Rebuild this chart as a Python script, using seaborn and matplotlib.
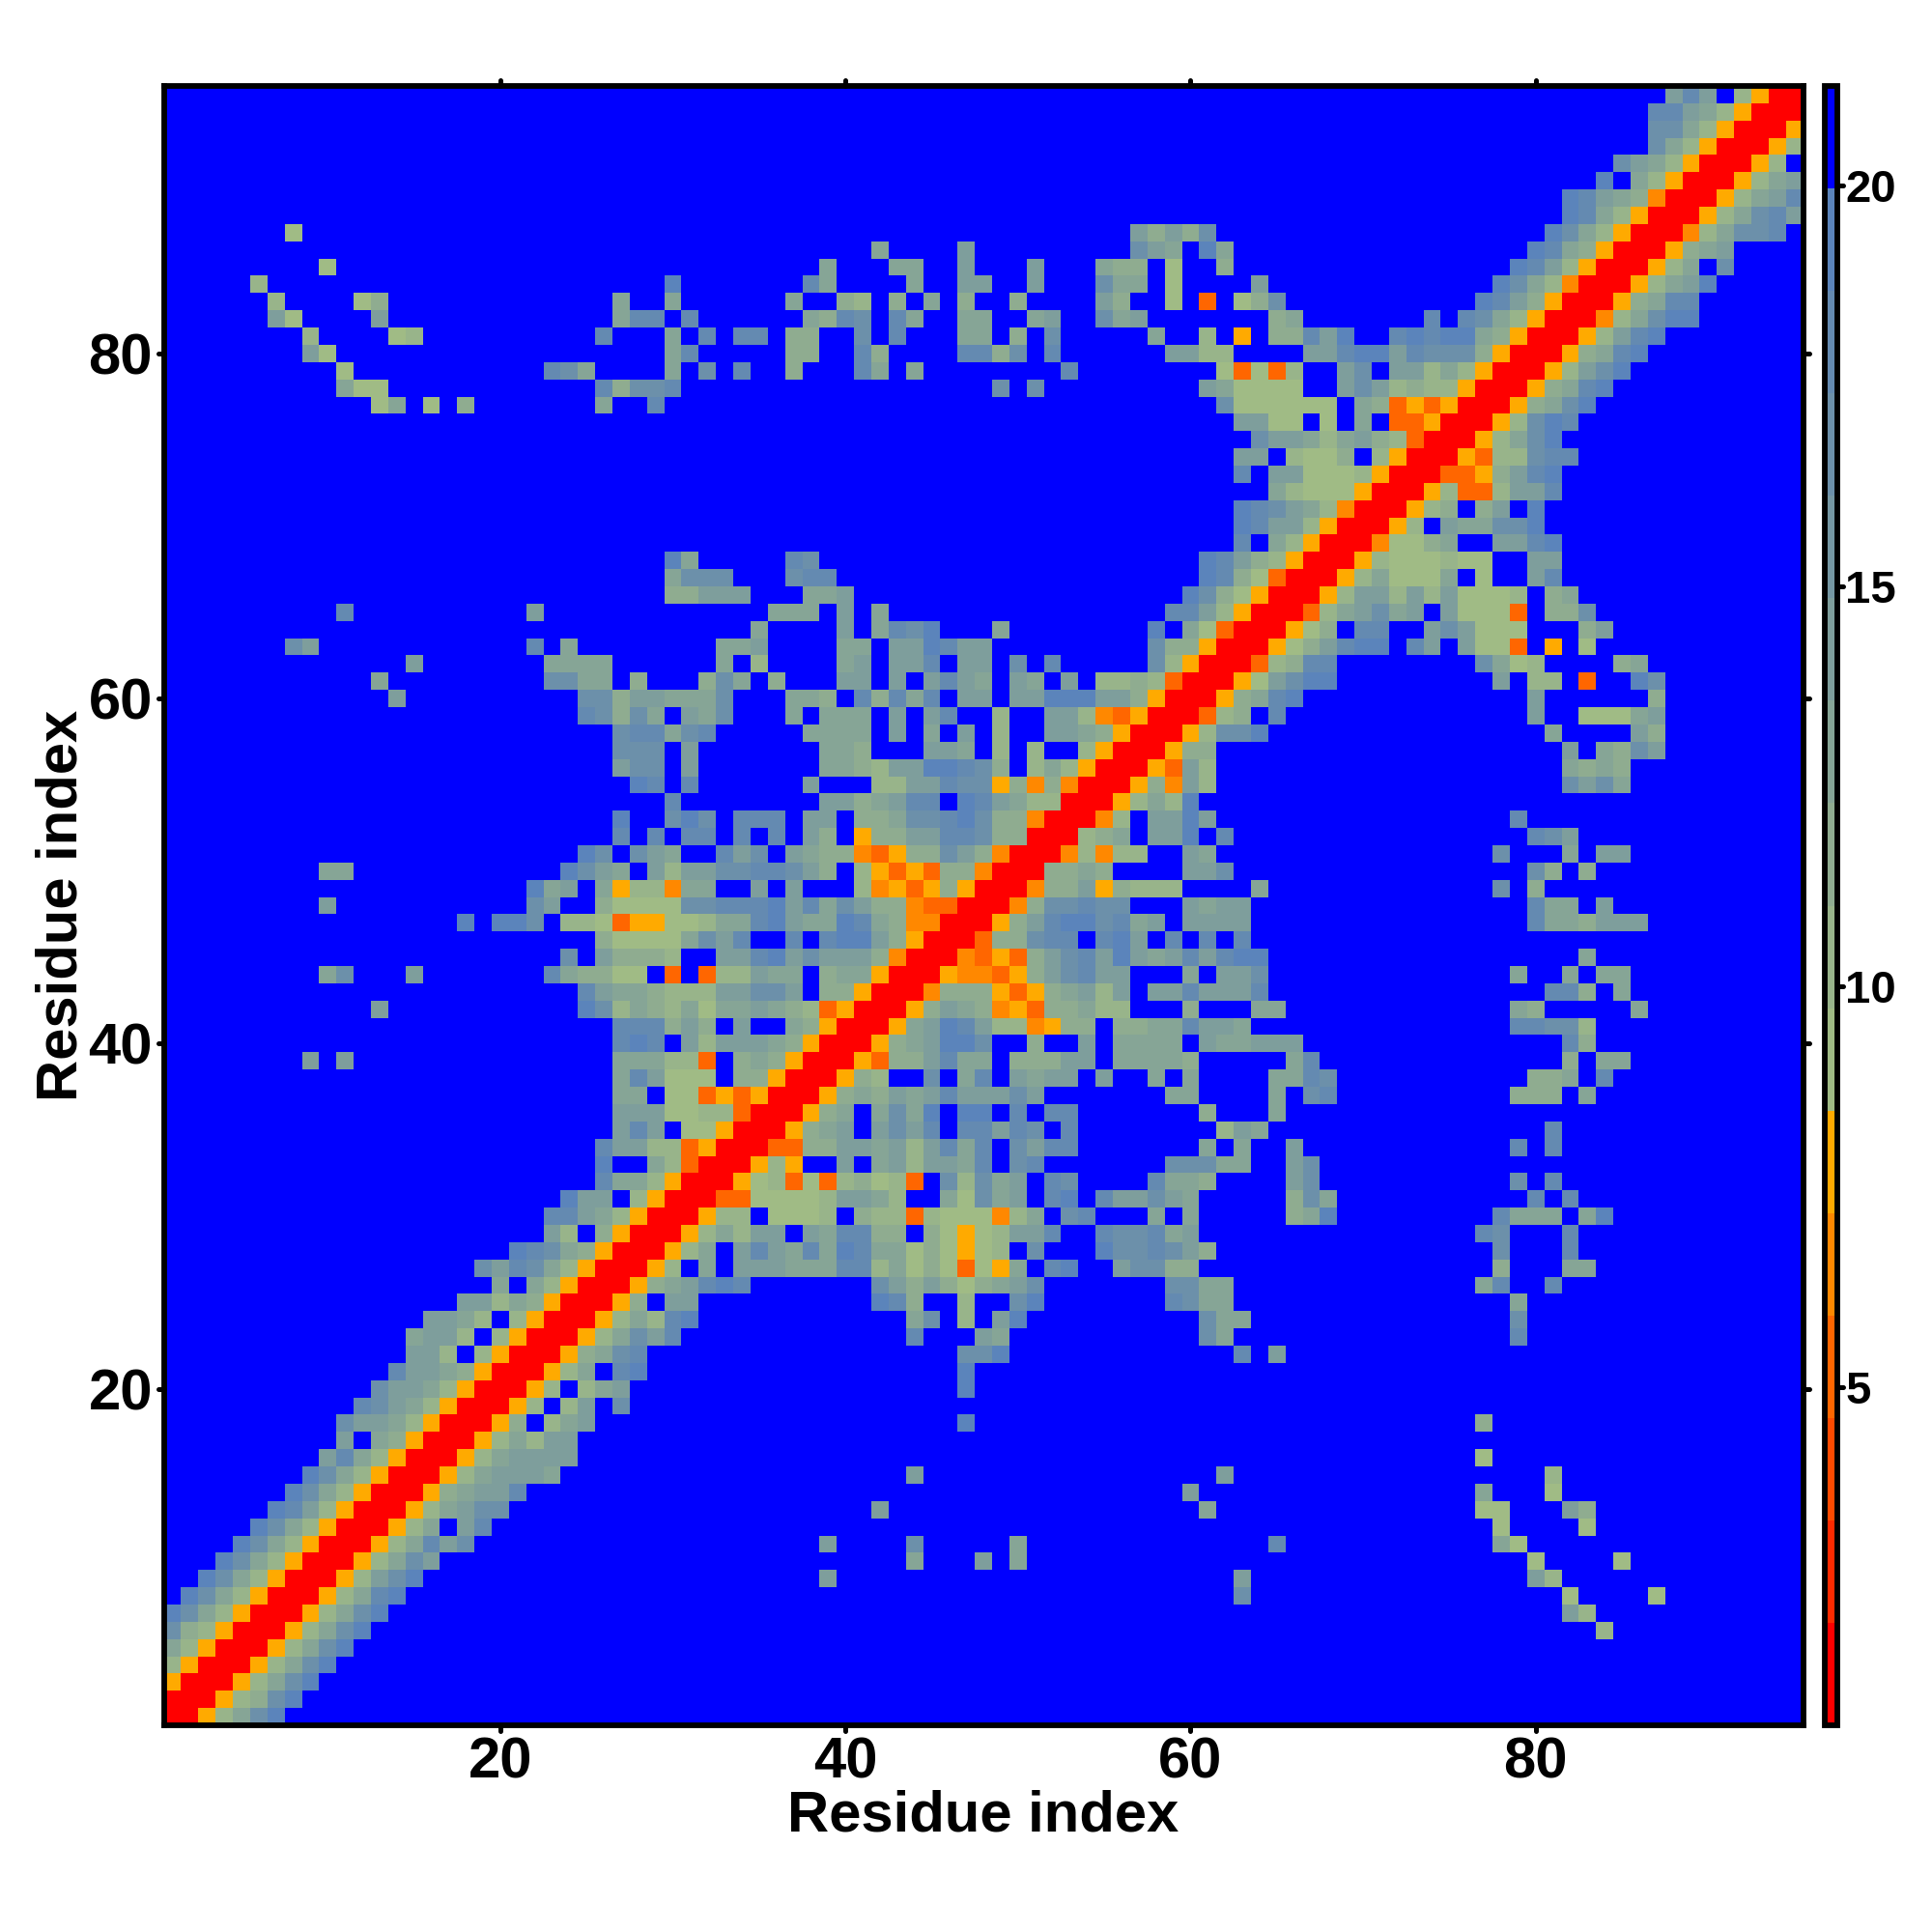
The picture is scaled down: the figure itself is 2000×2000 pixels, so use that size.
import numpy as np
import pandas as pd
import seaborn as sns
import matplotlib.pyplot as plt
from matplotlib.colors import ListedColormap
from matplotlib.markers import MarkerStyle

# distance (in Angstrom) for each letter in the map
codes = ['R', 'q', 'p', 'o', 'a', 'b', 'c', 'd', 'e', 'f', 'g', 'h', '.']
code_values = [1.4, 5.3, 6.5, 7.8, 9.0, 10.3, 11.6, 12.9, 14.1, 16.7, 18.0, 19.2, 20.6]

# upper triangle of the contact map, residue 95 down to residue 1: "first_x:letters"
rows = [
    "88:ege.boRR",
    "87:ggedboRR",
    "87:ffdboRR",
    "87:fdboRR",
    "85:fedboRR",
    "84:h.dboRR",
    "82:hgedcpRR",
    "82:hgdboRR",
    "8:a 57:ececf 81:hfdboRR",
    "42:d 47:e 57:fed 61:hd 80:hgdcoRR",
    "10:a 39:d 43:dd 47:e 51:e 55:dcc 59:a 62:c 79:hgeboRR",
    "6:b 30:h 38:gd 44:d 47:ee 51:e 55:fdd 59:a 64:e 78:hfdbpRR",
    "7:b 12:ac 27:d 30:d 37:d 40:cb 43:c 45:d 47:c 50:c 55:ec 59:a 61:q 63:acf 77:hgecoRR",
    "7:ea 13:e 27:dgg 31:g 38:dcgf 43:gd 47:dd 51:de 55:fde 65:cd 74:g 76:gfdboRR",
    "9:b 14:ab 26:g 30:d 32:g 34:gg 37:cc 41:f 43:g 47:dd 50:c 52:f 58:d 61:b 63:o 65:ccgeh 72:ghghhdcoRR",
    "9:ea 30:dg 37:cc 41:gc 47:ggcf 52:g 59:eebb 67:eeghhegfffcoRR",
    "11:a 23:gfd 30:d 32:f 34:g 37:c 41:gd 44:d 53:g 62:aqaqb 69:ef.eebdboRR",
    "11:daa 26:gcffg 49:f 51:f 61:edaaaa 69:efebcbboRR",
    "13:ad 16:a 18:c 26:d 29:g 62:faaaaaa 70:dcqoqoRR",
    "63:eeaa 68:a 70:d 72:qqoRR",
    "64:feedbdecbqRR",
    "63:ee 66:baac 71:boRR",
    "63:g 65:eeaaaboRR",
    "65:dbaaaoRR",
    "63:hgfedbpRR",
    "63:hgeeboRR",
    "63:g 65:dboRR",
    "30:hd 37:gf 61:hgecboRR",
    "30:dfff 37:fgg 61:hgcaqRR",
    "30:cceee 38:dde 60:hfcaoRR",
    "11:g 22:e 36:ddd 40:e 42:d 59:ggeboRR",
    "35:d 40:e 42:dgfh 49:d 58:h 60:daqRR",
    "8:fe 22:g 24:d 33:dde 40:dd 43:eehgee 58:fccoRR",
    "15:e 23:dddd 33:d 35:b 40:de 43:eeg 47:ee 50:f 52:g 58:fboRR",
    "13:d 23:ffdd 28:c 32:cfd 36:c 40:ee 43:e 45:eged 50:ed 53:e 55:bbcbqRR",
    "14:e 25:ffceed 31:ddf 37:ddc 41:gcgdg 47:ee 50:eehhheecoRR",
    "25:gfcfd 31:edf 37:d 39:ddd 43:e 45:eg 49:b 52:eebpqoRR",
    "27:fggdfg 38:dddd 43:e 45:d 47:e 49:b 52:eedcoRR",
    "27:fff 31:e 39:ddc 45:eed 49:b 51:b 54:boRR",
    "27:eff 31:e 39:ddcbeehhgfc 51:bdboRR",
    "28:hg 31:g 38:e 42:bbeegffocpcpRR",
    "30:g 39:eecdegg 47:hgedbbRR",
    "27:h 30:fhf 34:ggg 38:ee 41:ccdffghfccpRR",
    "27:g 29:g 31:gg 34:g 36:g 38:ec 41:occeeggfccRR",
    "25:hf 28:fed 33:gef 37:edccpqoccfecpRR",
    "10:dd 24:hfed 29:ebeeffggfec 41:boqoqccpRR",
    "22:hde 26:dobbpdd 35:e 37:e 41:bpoqocoRR",
    "10:e 22:fe 26:caaaaffggghegdfeccpqqRR",
    "18:h 20:hhf 24:bbaqooaabddgheddhgdcppRR",
    "26:caaaadfeg 37:g 39:ghhecoRR",
    "24:f 26:ecccb 33:eeghefeeecpRR",
    "10:df 15:e 23:gdccaa 30:q 32:qbbedd 39:cddoRR",
    "25:geddcbbbeeffe 39:ccoRR",
    "13:e 25:hfbdcbdaddedcbqoRR",
    "27:gggcec 34:e 37:dcoRR",
    "27:ghg 31:ebeeedcoRR",
    "9:e 11:e 27:dddbbq 34:cdcoRR",
    "27:dgeaaa 34:ccoRR",
    "27:dd 30:aaqoqoRR",
    "27:eeeaabbqRR",
    "27:ege 31:aaoRR",
    "26:geebbqoRR",
    "26:h 29:dbqRR",
    "26:gddboRR",
    "24:hee.boRR",
    "23:ggedboRR",
    "23:eb.coRR",
    "21:hgfdcoRR",
    "19:fegfdboRR",
    "20:d.dboRR",
    "18:eebdcoRR",
    "16:eedb.boRR",
    "15:deeb.boRR",
    "15:eeb.boRR",
    "14:geedcoRR",
    "13:feedboRR",
    "12:gfedboRR",
    "11:feedboRR",
    "11:e.dcoRR",
    "10:egdboRR",
    "9:hfdboRR",
    "8:hfdboRR",
    "7:hgeboRR",
    "6:hfdboRR",
    "5:hfdboRR",
    "4:hfdboRR",
    "3:hfdboRR",
    "2:hfdboRR",
    "1:hfdboRR",
    "1:fcboRR",
    "1:dboRR",
    "1:boRR",
    "1:oRR",
    "1:RR",
    "1:R",
]

# colour bar steps, low to high
level_colors = ['#ff0000', '#ff2a00', '#ff4a00', '#ff6600', '#ff8800', '#ffaa00',
                '#a0bb85', '#98b48a', '#8fac90', '#86a596', '#7e9e9c', '#7597a3',
                '#6c90aa', '#648ab1', '#5b84bb', '#0000ff']
value_min = 0.78
value_max = 21.24
bar_ticks = [5, 10, 15, 20]
axis_ticks = [20, 40, 60, 80]

n = len(rows)
lookup = dict(zip(codes, code_values))
dist = np.full((n, n), lookup['.'])
for k, row in enumerate(rows):
    y = n - k
    for part in row.split():
        start, letters = part.split(':')
        for off, ch in enumerate(letters):
            x = int(start) + off
            if x <= y:
                dist[y - 1, x - 1] = lookup[ch]
                dist[x - 1, y - 1] = lookup[ch]

residues = np.arange(1, n + 1)
df = pd.DataFrame(dist, index=residues, columns=residues).iloc[::-1]

plt.rcParams['font.family'] = ['Liberation Sans', 'DejaVu Sans']
plt.rcParams['font.weight'] = 'bold'

fig = plt.figure(figsize=(10, 10), dpi=200)
ax = fig.add_axes([0.0848, 0.107, 0.8485, 0.8485])
cax = fig.add_axes([0.9443, 0.107, 0.0065, 0.8485])

sns.heatmap(df, ax=ax, cbar_ax=cax, cmap=ListedColormap(level_colors),
            vmin=value_min, vmax=value_max, square=False,
            cbar_kws={'ticks': bar_ticks}, xticklabels=False, yticklabels=False)

ax.set_xticks(np.array(axis_ticks) - 0.5)
ax.set_xticklabels(axis_ticks, fontsize=21.5, rotation=0)
ax.set_yticks(n - np.array(axis_ticks) + 0.5)
ax.set_yticklabels(axis_ticks, fontsize=21.5, rotation=0)
ax.set_xlabel('Residue index', fontsize=21.5, fontweight='bold', labelpad=0)
ax.set_ylabel('Residue index', fontsize=21.5, fontweight='bold', labelpad=0)
ax.tick_params(top=True, right=True, direction='out', length=2.2, width=1.8, pad=2)
for side in ax.spines.values():
    side.set_visible(True)
    side.set_linewidth(2.1)

cb = ax.collections[0].colorbar
cb.outline.set_visible(True)
cb.outline.set_linewidth(2.1)
cb.outline.set_edgecolor('black')
cax.tick_params(length=2.2, width=1.8, pad=1, labelsize=17)

for line in ax.get_xticklines() + ax.get_yticklines() + cax.get_yticklines():
    line.set_marker(MarkerStyle(line.get_marker(), capstyle='round'))

fig.savefig('out.png', dpi=200)
